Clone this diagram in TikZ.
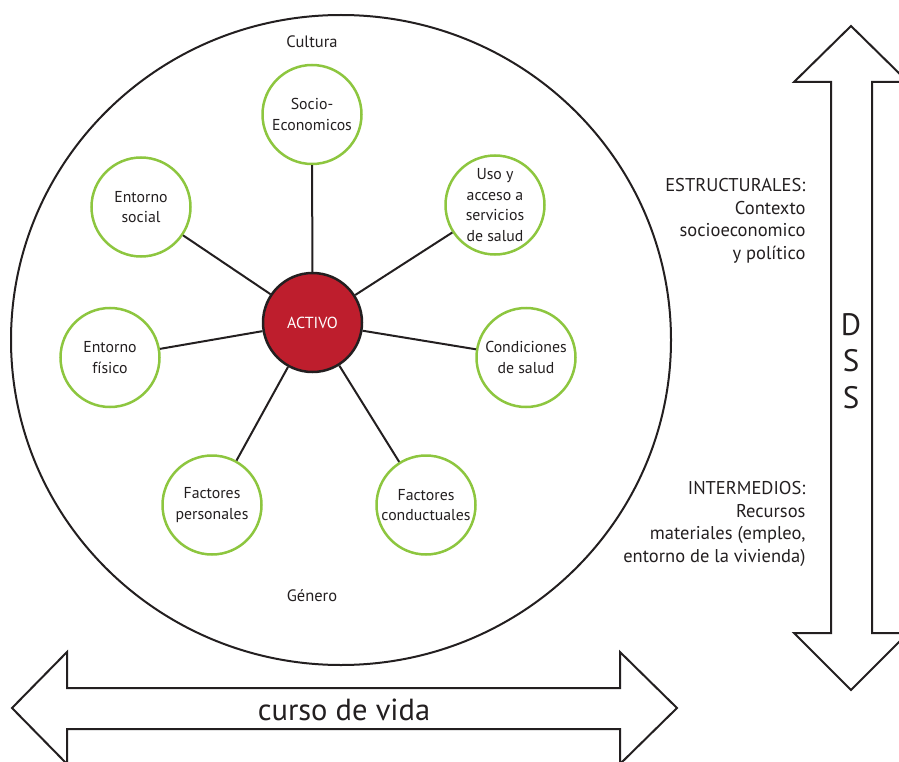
\documentclass[tikz,border=0pt]{standalone}
\usepackage{fontspec}
\setmainfont{PT Sans}
\usepackage{tikz}
\definecolor{verde}{RGB}{141,198,63}
\definecolor{rojo}{RGB}{190,30,45}
\definecolor{tinta}{RGB}{35,31,32}

\begin{document}
\begin{tikzpicture}[x=1pt,y=-1pt,
  factor/.style={circle, draw=verde, line width=2.5pt, fill=white, minimum size=99pt,
    inner sep=0pt, align=center, text=tinta, font=\fontsize{15.8}{20.7}\selectfont},
  activo/.style={circle, draw=tinta, line width=2.5pt, fill=rojo, minimum size=99pt,
    text=white, font=\fontsize{16}{18}\selectfont},
  rotulo/.style={text=tinta, font=\fontsize{16.5}{19}\selectfont},
  nivel/.style={text=tinta, align=right, anchor=east, font=\fontsize{18.5}{22.5}\selectfont},
  radio/.style={draw=tinta, line width=2pt},
  flecha/.style={draw=tinta, line width=2pt, line join=miter, fill=white}]
\useasboundingbox (0,0) rectangle (899,762);
\clip (0,0) rectangle (899,762);

\draw [tinta, line width=2pt] (341,340) ellipse [x radius=330, y radius=325];
\node [rotulo] (cultura) at (312,42) {Cultura};
\node [rotulo] (genero) at (312,596) {Género};

\node [activo] (act) at (312.5,322.5) {ACTIVO};
\node [factor] (socio) at (312,114.5) {Socio-\\Economicos};
\node [factor] (uso) at (495,205) {Uso y\\acceso a\\servicios\\de salud};
\node [factor] (cond) at (526,357.5) {Condiciones\\de salud};
\node [factor] (fcond) at (426,505) {Factores\\conductuales};
\node [factor] (fpers) at (212,505) {Factores\\personales};
\node [factor] (fisico) at (110,357.5) {Entorno\\físico};
\node [factor] (social) at (141,207) {Entorno\\social};

\foreach \f in {socio,uso,cond,fcond,fpers,fisico,social}
  \draw [radio] (act) -- (\f);

% flecha DSS
\draw [flecha] (851,26) -- (908,82) -- (872,82) -- (872,633) -- (908,633) -- (851,690)
  -- (794,633) -- (831,633) -- (831,82) -- (794,82) -- cycle;
\node [text=tinta, align=center, font=\fontsize{31}{36.5}\selectfont] (dss) at (851,361) {D\\S\\S};

\node [nivel] (estr) at (809,221) {ESTRUCTURALES:\\Contexto\\socioeconomico\\y político};
\node [nivel] (inter) at (809,524) {INTERMEDIOS:\\Recursos\\materiales (empleo,\\entorno de la vivienda)};

% curso de vida
\draw [flecha] (12,708) -- (67,652) -- (67,688) -- (620,688) -- (620,652) -- (677,708)
  -- (620,764) -- (620,729) -- (67,729) -- (67,764) -- cycle;
\node [text=tinta, font=\fontsize{30.5}{34}\selectfont] (curso) at (344,710) {curso de vida};
\end{tikzpicture}
\end{document}
